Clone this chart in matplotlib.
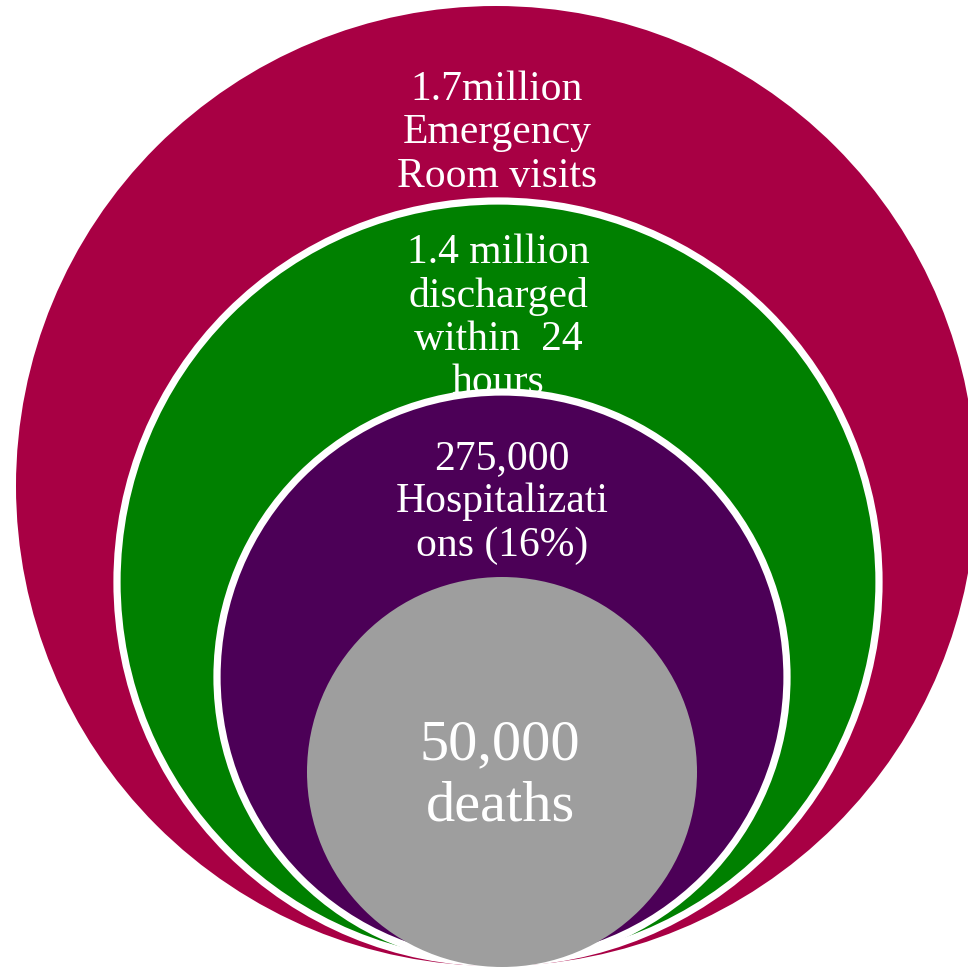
import matplotlib.pyplot as plt
from matplotlib.patches import Circle

# nested groups, outermost first
labels = [
    "1.7million\nEmergency\nRoom visits",
    "1.4 million\ndischarged\nwithin  24\nhours",
    "275,000\nHospitalizati\nons (16%)",
    "50,000\ndeaths",
]
colors = ["#A80044", "#008000", "#4C0057", "#9E9E9E"]

# circle geometry in pixel units (cx, cy, r), all touching near the bottom
circles = [(496, 486, 480), (498, 582, 381), (502, 677, 285), (502, 772, 195)]
edges = [None, "white", "white", None]
text_pos = [(497, 133), (498, 318), (502, 502), (500, 776)]
text_size = [30, 30, 30, 42]
line_sp = [1.17, 1.16, 1.17, 1.22]

plt.rcParams['font.family'] = ['Liberation Serif', 'DejaVu Serif']

fig = plt.figure(figsize=(9.68, 9.67), dpi=100)
ax = fig.add_axes([0, 0, 1, 1])
ax.set_xlim(0, 968)
ax.set_ylim(967, 0)
ax.set_aspect('equal')
ax.axis('off')

for i, (lab, col) in enumerate(zip(labels, colors)):
    cx, cy, r = circles[i]
    if edges[i]:
        c = Circle((cx, cy), r, facecolor=col, edgecolor=edges[i], lw=5.2, zorder=2 * i)
    else:
        c = Circle((cx, cy), r, facecolor=col, edgecolor='none', zorder=2 * i)
    ax.add_patch(c)
    tx, ty = text_pos[i]
    ax.text(tx, ty, lab, color='white', fontsize=text_size[i], ha='center', va='center',
            linespacing=line_sp[i], zorder=2 * i + 1)

fig.savefig("out.png", dpi=100)
